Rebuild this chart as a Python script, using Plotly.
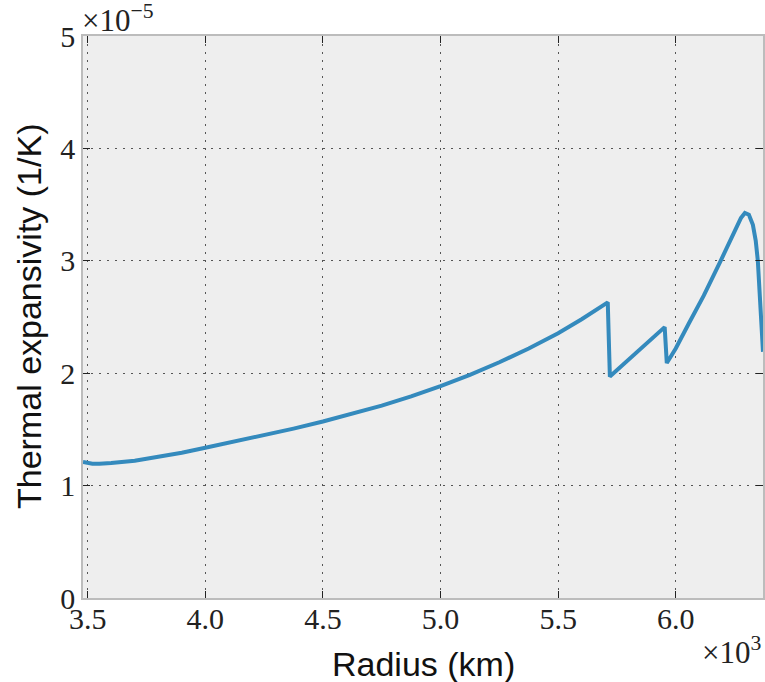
import plotly.graph_objects as go

# Radius in units of 10^3 km, thermal expansivity in units of 1e-5 1/K
radius = [3.480, 3.50, 3.52, 3.55, 3.60, 3.70, 3.80, 3.90, 4.00, 4.125, 4.25,
          4.375, 4.50, 4.625, 4.75, 4.875, 5.00, 5.125, 5.25, 5.375, 5.50, 5.60,
          5.711, 5.72, 5.80, 5.90, 5.953, 5.962,
          6.00, 6.055, 6.119, 6.191, 6.238, 6.268, 6.277, 6.294, 6.311, 6.328,
          6.340, 6.349, 6.357, 6.364, 6.371]
alpha = [1.21, 1.20, 1.195, 1.195, 1.201, 1.222, 1.254, 1.293, 1.336, 1.39, 1.447,
         1.507, 1.570, 1.637, 1.711, 1.793, 1.884, 1.985, 2.097, 2.220, 2.355, 2.48,
         2.63, 1.97, 2.12, 2.31, 2.41, 2.09,
         2.22, 2.44, 2.69, 3.00, 3.20, 3.33, 3.38, 3.425, 3.41, 3.32,
         3.18, 3.00, 2.74, 2.47, 2.19]

x_ticks = [3.5, 4.0, 4.5, 5.0, 5.5, 6.0]
x_tick_labels = ["3.5", "4.0", "4.5", "5.0", "5.5", "6.0"]
y_ticks = [0, 1, 2, 3, 4, 5]
y_tick_labels = ["0", "1", "2", "3", "4", "5"]

fig = go.Figure()
fig.add_trace(go.Scatter(x=radius, y=alpha, mode="lines",
                         line=dict(color="#348ABD", width=4),
                         showlegend=False, hoverinfo="skip"))

serif = "Liberation Serif, DejaVu Serif, serif"
sans = "Liberation Sans, Arial, sans-serif"

axis_common = dict(
    showgrid=True, gridcolor="#555555", griddash="2px,6px", gridwidth=1.3,
    ticks="inside", ticklen=7, tickwidth=1.3, tickcolor="#222222",
    mirror="allticks", showline=True, linecolor="#bcbcbc", linewidth=1.5,
    zeroline=False, automargin=False,
    tickfont=dict(family=serif, size=30, color="#222222"),
)

fig.update_xaxes(range=[3.48, 6.371], tickvals=x_ticks, ticktext=x_tick_labels,
                 ticklabelstandoff=-7, **axis_common)
fig.update_yaxes(range=[0, 5], tickvals=y_ticks, ticktext=y_tick_labels,
                 **axis_common)

# axis titles
fig.add_annotation(xref="paper", yref="paper", x=0.5, y=0.0, xanchor="center", yanchor="top",
                   text="Radius (km)", showarrow=False,
                   font=dict(family=sans, size=34, color="#111111"), yshift=-45)
fig.add_annotation(xref="paper", yref="paper", x=0.0, y=0.5, xanchor="center", yanchor="middle",
                   text="Thermal expansivity (1/K)", showarrow=False, textangle=-90,
                   font=dict(family=sans, size=34, color="#111111"), xshift=-54)

# exponent labels
fig.add_annotation(xref="paper", yref="paper", x=0.0, y=1.0, xanchor="left", yanchor="bottom",
                   text="×10<sup>−5</sup>", showarrow=False,
                   font=dict(family=serif, size=31, color="#222222"), xshift=-3, yshift=-4)
fig.add_annotation(xref="paper", yref="paper", x=1.0, y=0.0, xanchor="right", yanchor="bottom",
                   text="×10<sup>3</sup>", showarrow=False,
                   font=dict(family=serif, size=31, color="#222222"), yshift=-74)

fig.update_layout(width=765, height=682,
                  margin=dict(l=83, r=2, t=36, b=84),
                  plot_bgcolor="#eeeeee", paper_bgcolor="white")

# remove the default 8px page margin so the figure fills the window exactly
fig.write_html("out.html", config={"displayModeBar": False},
               post_script="document.body.style.margin='0';document.body.style.overflow='hidden';")
